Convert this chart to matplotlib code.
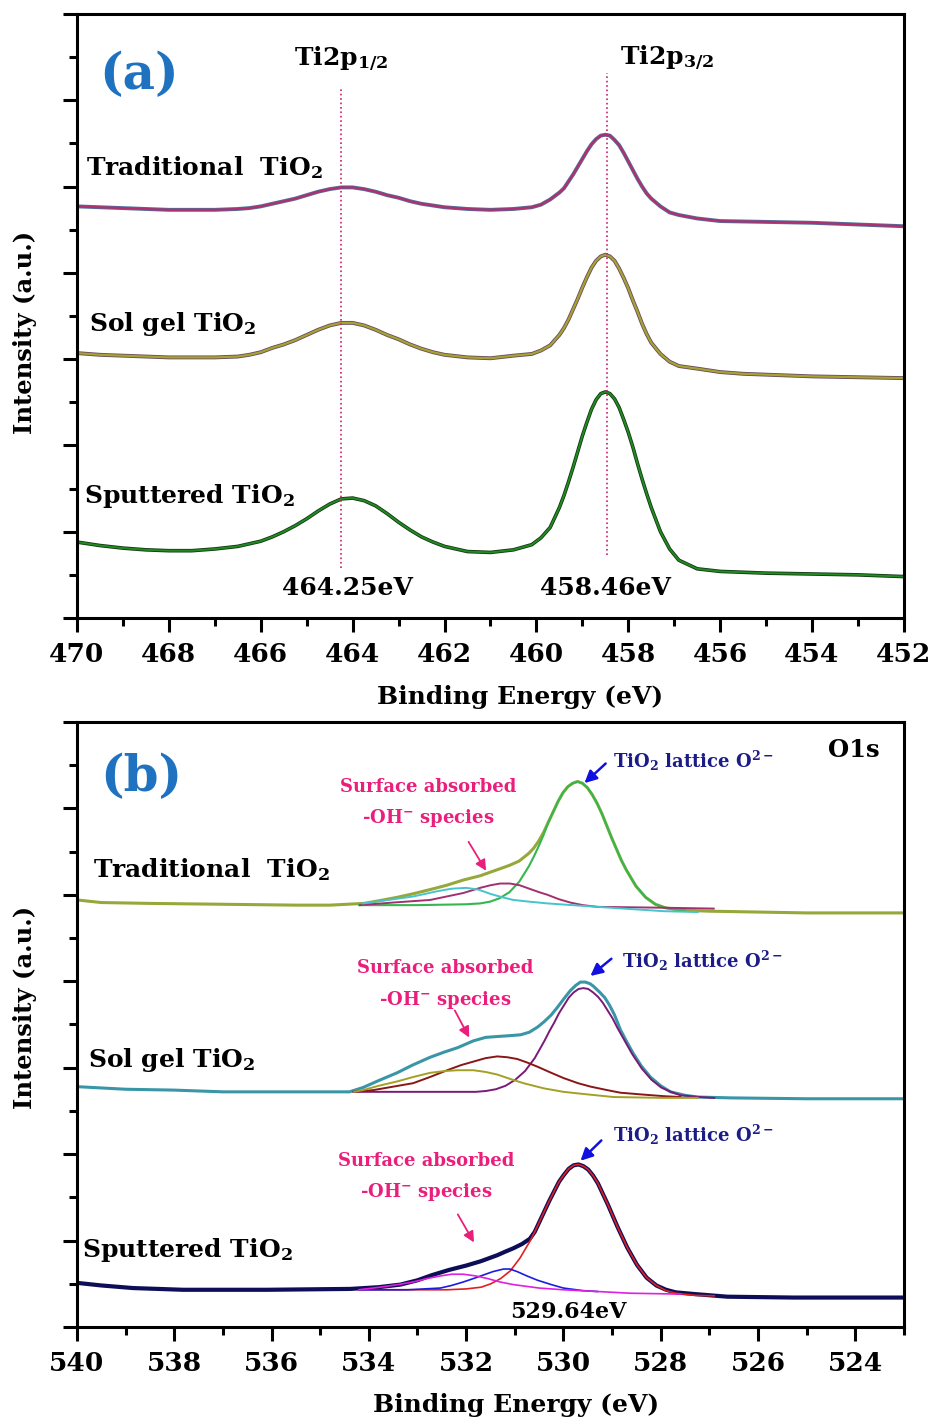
import matplotlib.pyplot as plt
from matplotlib.ticker import MultipleLocator

# XPS Ti2p (a) and O1s (b) spectra (a.u.)

plt.rcParams['font.family'] = ['DejaVu Serif']
plt.rcParams['font.weight'] = 'bold'
plt.rcParams['mathtext.fontset'] = 'custom'
plt.rcParams['mathtext.rm'] = 'DejaVu Serif:bold'
plt.rcParams['mathtext.it'] = 'DejaVu Serif:bold'
plt.rcParams['mathtext.bf'] = 'DejaVu Serif:bold'

# ---------------- panel (a): Ti2p ----------------
E_a = [470, 469.5, 469, 468.5, 468, 467.5, 467, 466.5,
       466.25, 466, 465.75, 465.5, 465.25, 465,
       464.75, 464.5, 464.25, 464, 463.75, 463.5, 463.25, 463,
       462.75, 462.5, 462.25, 462, 461.5, 461, 460.5,
       460.1, 459.9, 459.7, 459.5, 459.4, 459.3, 459.2, 459.1, 459.0,
       458.9, 458.8, 458.7, 458.6, 458.5, 458.4, 458.3, 458.2, 458.1, 458.0,
       457.9, 457.8, 457.7, 457.6, 457.5, 457.3, 457.1, 456.9,
       456.5, 456, 455.5, 455, 454, 453, 452]
trad_a = [4.77, 4.76, 4.75, 4.74, 4.73, 4.73, 4.73, 4.74,
          4.75, 4.77, 4.80, 4.83, 4.86, 4.90,
          4.94, 4.97, 4.99, 4.99, 4.97, 4.94, 4.90, 4.87,
          4.83, 4.80, 4.78, 4.76, 4.74, 4.73, 4.74,
          4.76, 4.79, 4.85, 4.93, 4.98, 5.06, 5.14, 5.23, 5.32,
          5.41, 5.49, 5.55, 5.59, 5.60, 5.59, 5.54, 5.48, 5.39, 5.29,
          5.19, 5.09, 5.00, 4.92, 4.86, 4.77, 4.70, 4.67,
          4.63, 4.60, 4.595, 4.59, 4.58, 4.56, 4.54]
sol_a = [3.07, 3.05, 3.04, 3.03, 3.02, 3.02, 3.02, 3.03,
         3.05, 3.08, 3.13, 3.17, 3.22, 3.28,
         3.34, 3.39, 3.42, 3.42, 3.39, 3.34, 3.28, 3.23,
         3.17, 3.12, 3.08, 3.05, 3.02, 3.01, 3.04,
         3.06, 3.10, 3.16, 3.28, 3.36, 3.46, 3.58, 3.70, 3.83,
         3.95, 4.06, 4.14, 4.19, 4.21, 4.19, 4.14, 4.05, 3.94, 3.82,
         3.68, 3.55, 3.41, 3.29, 3.19, 3.06, 2.97, 2.92,
         2.89, 2.85, 2.83, 2.82, 2.80, 2.79, 2.78]
sput_a = [0.88, 0.84, 0.81, 0.79, 0.78, 0.78, 0.80, 0.83,
          0.86, 0.89, 0.94, 1.00, 1.07, 1.15,
          1.24, 1.32, 1.38, 1.39, 1.36, 1.30, 1.21, 1.11,
          1.02, 0.94, 0.88, 0.83, 0.77, 0.76, 0.79,
          0.85, 0.93, 1.05, 1.28, 1.42, 1.58, 1.75, 1.93, 2.11,
          2.27, 2.42, 2.53, 2.60, 2.62, 2.60, 2.54, 2.44, 2.30, 2.15,
          1.98, 1.79, 1.61, 1.44, 1.28, 1.00, 0.80, 0.67,
          0.57, 0.54, 0.53, 0.52, 0.51, 0.50, 0.48]

peaks_a = [464.25, 458.46]
peak_lines_a = [(0.58, 6.15), (0.73, 6.32)]

# ---------------- panel (b): O1s ----------------
trad_b_E = [540, 539.5, 538.5, 537, 535.5, 534.8, 534.1, 533.8, 533.42, 533.1,
            532.74, 532.4, 532.06, 531.71, 531.51, 531.31, 531.11, 530.91, 530.71, 530.61,
            530.51, 530.41, 530.31, 530.21, 530.11, 530.01, 529.91, 529.81, 529.71, 529.61,
            529.51, 529.41, 529.31, 529.21, 529.11, 529.01, 528.91, 528.81, 528.71, 528.51,
            528.31, 528.11, 527.91, 527.71, 527.5, 527, 526, 525, 524, 523]
trad_b = [4.94, 4.91, 4.90, 4.89, 4.88, 4.88, 4.90, 4.93, 4.97, 5.01,
          5.06, 5.11, 5.17, 5.22, 5.26, 5.30, 5.34, 5.39, 5.48, 5.54,
          5.62, 5.72, 5.84, 5.96, 6.08, 6.18, 6.25, 6.29, 6.31, 6.29,
          6.24, 6.16, 6.06, 5.94, 5.80, 5.66, 5.53, 5.40, 5.29, 5.10,
          4.97, 4.89, 4.85, 4.83, 4.82, 4.81, 4.80, 4.79, 4.79, 4.79]
trad_latt_E = [534.2, 533, 532, 531.71, 531.51, 531.31, 531.11, 530.91, 530.71, 530.61,
               530.51, 530.41, 530.31, 530.21, 530.11, 530.01, 529.91, 529.81, 529.71, 529.61,
               529.51, 529.41, 529.31, 529.21, 529.11, 529.01, 528.91, 528.81, 528.71, 528.51,
               528.31, 528.11, 527.91, 527.71, 527.5]
trad_latt = [4.88, 4.88, 4.89, 4.90, 4.92, 4.96, 5.03, 5.15, 5.33, 5.44,
             5.56, 5.69, 5.84, 5.96, 6.08, 6.18, 6.25, 6.29, 6.31, 6.29,
             6.24, 6.16, 6.06, 5.94, 5.80, 5.66, 5.53, 5.40, 5.29, 5.10,
             4.97, 4.89, 4.85, 4.83, 4.82]
trad_c2_E = [534.18, 533.5, 532.74, 532.4, 532.06, 531.71, 531.5, 531.3, 531.1, 530.9,
             530.7, 530.5, 530.33, 530.1, 529.86, 529.6, 529.3, 528.6, 527.94, 526.91]
trad_c2 = [4.88, 4.91, 4.94, 4.98, 5.02, 5.08, 5.11, 5.13, 5.13, 5.11,
           5.07, 5.03, 5.00, 4.95, 4.91, 4.88, 4.86, 4.855, 4.85, 4.84]
trad_c3_E = [534.12, 533.6, 533.09, 532.6, 532.3, 532.0, 531.75, 531.5, 531.25, 531.03,
             530.7, 530.33, 529.3, 527.94, 527.24]
trad_c3 = [4.90, 4.94, 4.98, 5.04, 5.07, 5.08, 5.06, 5.01, 4.97, 4.94,
           4.92, 4.90, 4.86, 4.81, 4.80]

sol_b_E = [540, 539, 538, 537, 535, 534.4, 534.12, 533.8, 533.42, 533.1,
           532.74, 532.45, 532.18, 531.85, 531.6, 531.36, 531.1, 530.88, 530.7, 530.53,
           530.4, 530.25, 530.12, 530.0, 529.86, 529.75, 529.65, 529.55, 529.45, 529.38,
           529.25, 529.15, 529.05, 528.95, 528.83, 528.7, 528.56, 528.4, 528.21, 528.0,
           527.8, 527.5, 527.24, 526.56, 525, 523]
sol_b = [2.78, 2.75, 2.74, 2.72, 2.72, 2.72, 2.77, 2.85, 2.94, 3.03,
         3.12, 3.18, 3.23, 3.31, 3.35, 3.36, 3.37, 3.38, 3.41, 3.47,
         3.53, 3.61, 3.70, 3.79, 3.89, 3.95, 3.99, 3.99, 3.97, 3.94,
         3.87, 3.81, 3.72, 3.61, 3.44, 3.30, 3.16, 3.02, 2.89, 2.79,
         2.72, 2.68, 2.66, 2.65, 2.64, 2.64]
sol_latt_E = [534.32, 531.8, 531.59, 531.39, 531.19, 530.99, 530.79, 530.59, 530.49, 530.39,
              530.29, 530.19, 530.09, 529.99, 529.89, 529.79, 529.69, 529.59, 529.49, 529.39,
              529.29, 529.19, 529.09, 528.99, 528.89, 528.79, 528.69, 528.59, 528.39, 528.19,
              527.99, 527.79, 527.59, 527.2, 526.9]
sol_latt = [2.72, 2.72, 2.73, 2.75, 2.79, 2.86, 2.96, 3.11, 3.21, 3.31,
            3.42, 3.52, 3.63, 3.72, 3.81, 3.87, 3.91, 3.92, 3.91, 3.87,
            3.82, 3.75, 3.66, 3.57, 3.46, 3.36, 3.26, 3.16, 2.99, 2.86,
            2.77, 2.72, 2.68, 2.66, 2.65]
sol_c2_E = [534.3, 533.91, 533.5, 533.09, 532.75, 532.39, 532.1, 531.85, 531.6, 531.36,
            531.15, 530.95, 530.75, 530.53, 530.25, 530.0, 529.7, 529.44, 529.1, 528.83,
            528.4, 527.94, 527.59]
sol_c2 = [2.72, 2.74, 2.78, 2.82, 2.89, 2.97, 3.03, 3.07, 3.11, 3.13,
          3.12, 3.10, 3.06, 3.01, 2.94, 2.88, 2.82, 2.78, 2.74, 2.71,
          2.69, 2.67, 2.66]
sol_c3_E = [534.3, 534.12, 533.8, 533.42, 533.1, 532.74, 532.45, 532.18, 531.85, 531.6,
            531.36, 531.1, 530.82, 530.4, 530.0, 529.5, 528.97, 527.94, 527.24]
sol_c3 = [2.72, 2.74, 2.79, 2.84, 2.89, 2.94, 2.96, 2.97, 2.97, 2.95,
          2.92, 2.87, 2.82, 2.76, 2.72, 2.69, 2.66, 2.65, 2.65]

sput_b_E = [540, 539.5, 538.85, 537.82, 536.09, 534.38, 533.8, 533.35, 533.0, 532.7,
            532.35, 532.0, 531.7, 531.36, 531.2, 531.03, 530.85, 530.69, 530.59, 530.49,
            530.39, 530.29, 530.19, 530.09, 529.99, 529.89, 529.79, 529.69, 529.59, 529.49,
            529.39, 529.29, 529.19, 529.09, 528.99, 528.89, 528.79, 528.69, 528.49, 528.29,
            528.09, 527.89, 527.69, 527.29, 526.63, 525.27, 523]
sput_b = [0.51, 0.48, 0.45, 0.43, 0.43, 0.44, 0.46, 0.49, 0.54, 0.60,
          0.66, 0.71, 0.76, 0.83, 0.87, 0.91, 0.96, 1.02, 1.10, 1.22,
          1.34, 1.46, 1.57, 1.68, 1.76, 1.83, 1.87, 1.88, 1.86, 1.82,
          1.75, 1.66, 1.54, 1.42, 1.29, 1.16, 1.04, 0.92, 0.72, 0.57,
          0.48, 0.43, 0.40, 0.38, 0.35, 0.34, 0.34]
sput_latt_E = [534.2, 532.4, 532.0, 531.69, 531.49, 531.29, 531.09, 530.89, 530.69, 530.59,
               530.49, 530.39, 530.29, 530.19, 530.09, 529.99, 529.89, 529.79, 529.69, 529.59,
               529.49, 529.39, 529.29, 529.19, 529.09, 528.99, 528.89, 528.79, 528.69, 528.49,
               528.29, 528.09, 527.89, 527.69, 527.29, 526.9]
sput_latt = [0.43, 0.43, 0.44, 0.46, 0.50, 0.56, 0.65, 0.80, 0.99, 1.10,
             1.22, 1.34, 1.46, 1.57, 1.68, 1.76, 1.83, 1.87, 1.88, 1.86,
             1.82, 1.75, 1.66, 1.54, 1.42, 1.29, 1.16, 1.04, 0.92, 0.72,
             0.57, 0.48, 0.42, 0.39, 0.365, 0.36]
sput_c2_E = [534.2, 533.2, 532.53, 532.3, 532.06, 531.85, 531.65, 531.45, 531.23, 531.1,
             530.95, 530.75, 530.53, 530.25, 530.0, 529.6, 529.3]
sput_c2 = [0.43, 0.43, 0.45, 0.48, 0.52, 0.56, 0.60, 0.64, 0.67, 0.67,
           0.64, 0.59, 0.54, 0.49, 0.45, 0.42, 0.41]
sput_c3_E = [534.2, 533.77, 533.4, 533.09, 532.8, 532.53, 532.3, 532.06, 531.8, 531.56,
             531.3, 531.03, 530.5, 530.0, 529.3, 528.62, 527.59]
sput_c3 = [0.43, 0.46, 0.49, 0.52, 0.56, 0.59, 0.61, 0.61, 0.59, 0.56,
           0.52, 0.49, 0.45, 0.43, 0.41, 0.39, 0.38]

fig = plt.figure(figsize=(9.32, 14.23), dpi=100)
ax1 = fig.add_axes([0.0826, 0.5657, 0.8873, 0.4245])
ax2 = fig.add_axes([0.0826, 0.0675, 0.8873, 0.4252])


def style(ax, xlim, xmajor):
    ax.set_xlim(*xlim)
    ax.set_ylim(0, 7)
    ax.xaxis.set_major_locator(MultipleLocator(xmajor))
    ax.xaxis.set_minor_locator(MultipleLocator(xmajor / 2))
    ax.yaxis.set_major_locator(MultipleLocator(1))
    ax.yaxis.set_minor_locator(MultipleLocator(0.5))
    ax.set_yticklabels([])
    ax.tick_params(which='both', direction='out', width=2.2, top=False, right=False)
    ax.tick_params(which='major', length=10, labelsize=19, pad=7)
    ax.tick_params(which='minor', length=5.5)
    for lab in ax.get_xticklabels():
        lab.set_fontweight('bold')
    for s in ax.spines.values():
        s.set_linewidth(2.2)


# ---- panel (a)
ax1.plot(E_a, trad_a, color='#4f6f9c', lw=2.8)
ax1.plot(E_a, trad_a, color='#b0306e', lw=1.6)
ax1.plot(E_a, sol_a, color='#6a4a60', lw=2.8)
ax1.plot(E_a, sol_a, color='#a5a332', lw=1.6)
ax1.plot(E_a, sput_a, color='#123812', lw=2.6)
ax1.plot(E_a, sput_a, color='#238a23', lw=1.4)
for e, (y0, y1) in zip(peaks_a, peak_lines_a):
    ax1.plot([e, e], [y0, y1], color='#c8206e', lw=1.2, ls=':')
style(ax1, (470, 452), 2)

ax1.text(469.52, 6.29, '(a)', color='#1f72bf', fontsize=36, fontweight='bold', va='center')
ax1.text(465.27, 6.40, r'Ti2p$_{1/2}$', fontsize=18, va='baseline')
ax1.text(458.19, 6.41, r'Ti2p$_{3/2}$', fontsize=18, va='baseline')
ax1.text(469.80, 5.13, r'Traditional  TiO$_2$', fontsize=18, va='baseline')
ax1.text(469.74, 3.33, r'Sol gel TiO$_2$', fontsize=18, va='baseline')
ax1.text(469.85, 1.33, r'Sputtered TiO$_2$', fontsize=18, va='baseline')
ax1.text(465.53, 0.27, '464.25eV', fontsize=18, va='baseline')
ax1.text(459.93, 0.27, '458.46eV', fontsize=18, va='baseline')

# ---- panel (b)
ax2.plot(trad_b_E, trad_b, color='#96a83a', lw=2.2)
ax2.plot(trad_latt_E, trad_latt, color='#34b84e', lw=1.5)
ax2.plot(trad_c2_E, trad_c2, color='#a3306e', lw=1.4)
ax2.plot(trad_c3_E, trad_c3, color='#45c4cc', lw=1.4)

ax2.plot(sol_b_E, sol_b, color='#3a96a6', lw=2.2)
ax2.plot(sol_latt_E, sol_latt, color='#7a1a78', lw=1.4)
ax2.plot(sol_c2_E, sol_c2, color='#8a1616', lw=1.4)
ax2.plot(sol_c3_E, sol_c3, color='#a3a026', lw=1.4)

ax2.plot(sput_b_E, sput_b, color='#0e0e58', lw=3)
ax2.plot(sput_latt_E, sput_latt, color='#e02020', lw=1.2)
ax2.plot(sput_c2_E, sput_c2, color='#1c1ce0', lw=1.2)
ax2.plot(sput_c3_E, sput_c3, color='#e020e0', lw=1.2)
style(ax2, (540, 523), 2)

ax2.text(539.53, 6.35, '(b)', color='#1f72bf', fontsize=36, fontweight='bold', va='center')
ax2.text(524.57, 6.59, 'O1s', fontsize=17.5, va='baseline')
ax2.text(539.67, 5.21, r'Traditional  TiO$_2$', fontsize=18, va='baseline')
ax2.text(539.77, 3.01, r'Sol gel TiO$_2$', fontsize=18, va='baseline')
ax2.text(539.90, 0.81, r'Sputtered TiO$_2$', fontsize=18, va='baseline')
ax2.text(531.09, 0.10, '529.64eV', fontsize=16, va='baseline')

pink = '#ea1f7c'
navy = '#1c1c86'
oh_x = [532.78, 532.43, 532.82]
oh_y = [(6.19, 5.83), (4.10, 3.73), (1.86, 1.50)]
for x, (ya, yb) in zip(oh_x, oh_y):
    ax2.text(x, ya, 'Surface absorbed', color=pink, fontsize=13, ha='center', va='baseline')
    ax2.text(x, yb, r'-OH$^{-}$ species', color=pink, fontsize=13, ha='center', va='baseline')

pink_arrows = [((531.98, 5.64), (531.56, 5.25)),
               ((532.26, 3.69), (531.91, 3.32)),
               ((532.20, 1.33), (531.81, 0.95))]
for tail, head in pink_arrows:
    ax2.annotate('', xy=head, xytext=tail,
                 arrowprops=dict(arrowstyle='-|>', color=pink, lw=1.3, mutation_scale=16))

latt_x = [528.99, 528.79, 528.99]
latt_y = [6.47, 4.16, 2.14]
for x, y in zip(latt_x, latt_y):
    ax2.text(x, y, r'TiO$_2$ lattice O$^{2-}$', color=navy, fontsize=13, va='baseline')

blue_arrows = [((529.09, 6.54), (529.61, 6.27)),
               ((528.97, 4.28), (529.49, 4.04)),
               ((529.18, 2.18), (529.69, 1.90))]
for tail, head in blue_arrows:
    ax2.annotate('', xy=head, xytext=tail,
                 arrowprops=dict(arrowstyle='-|>', color='#1010e0', lw=1.8, mutation_scale=18))

# axis titles
fig.text(520 / 932, 1 - 697 / 1423, 'Binding Energy (eV)', fontsize=18, ha='center', va='center')
fig.text(516 / 932, 1 - 1405 / 1423, 'Binding Energy (eV)', fontsize=18, ha='center', va='center')
fig.text(25 / 932, 1 - 332 / 1423, 'Intensity (a.u.)', fontsize=17.5, rotation=90, ha='center', va='center')
fig.text(25 / 932, 1 - 1007 / 1423, 'Intensity (a.u.)', fontsize=17.5, rotation=90, ha='center', va='center')

fig.savefig('out.png', dpi=100)
